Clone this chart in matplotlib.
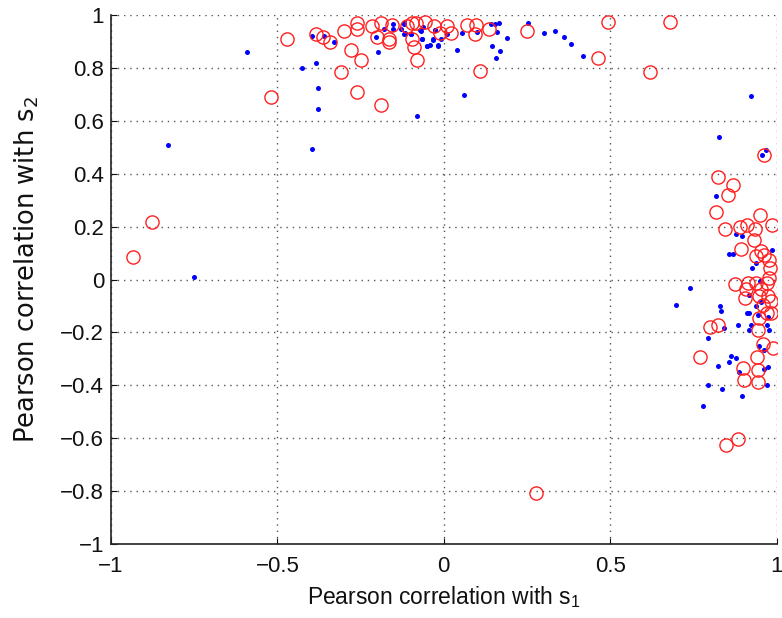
import matplotlib
matplotlib.use("Agg")
import matplotlib.pyplot as plt
from matplotlib.ticker import FuncFormatter

# Red circles (x = corr with s1, y = corr with s2)
red_x = [-0.47, -0.52, -0.385, -0.363, -0.342, -0.30, -0.26, -0.26, -0.28, -0.25,
         -0.31, -0.26, -0.19, -0.215, -0.19, -0.20, -0.165, -0.165, -0.155, -0.11,
         -0.095, -0.085, -0.095, -0.09, -0.08, -0.055, -0.03, -0.01, 0.01, 0.023,
         0.07, 0.096, 0.093, 0.136, 0.11, 0.25, 0.494, 0.464, 0.68, 0.62,
         0.962, 0.823, 0.868, 0.855, 0.818, 0.95, 0.985, 0.846, 0.89, 0.91,
         0.936, 0.933, 0.893, 0.953, 0.938, 0.963, 0.978, 0.98, 0.978, 0.875,
         0.915, 0.938, 0.971, 0.908, 0.953, 0.905, 0.948, 0.975, 0.958, 0.983,
         0.971, 0.983, 0.946, 0.945, 0.80, 0.825, 0.99, 0.96, 0.77, 0.94,
         0.898, 0.945, 0.903, 0.945, 0.848, 0.883, 0.277, -0.878, -0.933]
red_y = [0.91, 0.69, 0.93, 0.92, 0.90, 0.94, 0.97, 0.95, 0.87, 0.83,
         0.785, 0.71, 0.66, 0.96, 0.97, 0.92, 0.91, 0.90, 0.965, 0.96,
         0.97, 0.97, 0.91, 0.88, 0.83, 0.975, 0.96, 0.935, 0.96, 0.935,
         0.965, 0.965, 0.93, 0.95, 0.79, 0.94, 0.976, 0.84, 0.975, 0.787,
         0.47, 0.39, 0.36, 0.32, 0.256, 0.246, 0.205, 0.19, 0.20, 0.205,
         0.19, 0.15, 0.117, 0.107, 0.088, 0.095, 0.076, 0.044, 0.006, -0.015,
         -0.013, -0.013, -0.013, -0.035, -0.035, -0.07, -0.063, -0.063, -0.095, -0.082,
         -0.126, -0.126, -0.145, -0.19, -0.18, -0.173, -0.26, -0.242, -0.294, -0.293,
         -0.335, -0.343, -0.379, -0.388, -0.625, -0.603, -0.807, 0.218, 0.086]

# Blue dots
blue_x = [-0.59, -0.83, -0.425, -0.383, -0.377, -0.377, -0.395, -0.397, -0.36, -0.33,
          -0.205, -0.198, -0.18, -0.154, -0.154, -0.13, -0.12, -0.117, -0.10, -0.07,
          -0.064, -0.049, -0.031, -0.027, -0.017, -0.08, -0.12, -0.12, -0.10, -0.067,
          -0.061, -0.064, -0.049, -0.041, -0.031, -0.026, -0.017, -0.007, 0.011, 0.041,
          0.054, 0.061, 0.099, 0.143, 0.153, 0.166, 0.161, 0.146, 0.168, 0.157,
          0.189, 0.252, 0.30, 0.335, 0.36, 0.382, 0.419, 0.923, 0.828, 0.955,
          0.968, 0.818, 0.878, 0.895, 0.858, 0.868, 0.985, 0.938, 0.925, 0.951,
          0.741, 0.918, 0.698, 0.831, 0.833, 0.938, 0.953, 0.911, 0.918, 0.943,
          0.974, 0.883, 0.923, 0.843, 0.916, 0.971, 0.978, 0.793, 0.948, 0.961,
          0.863, 0.878, 0.858, 0.823, 0.963, 0.974, 0.888, 0.793, 0.835, 0.971,
          0.896, 0.778, -0.751]
blue_y = [0.86, 0.51, 0.80, 0.82, 0.726, 0.646, 0.495, 0.924, 0.924, 0.90,
          0.918, 0.862, 0.95, 0.966, 0.947, 0.95, 0.966, 0.934, 0.928, 0.944,
          0.91, 0.886, 0.909, 0.944, 0.888, 0.62, 0.97, 0.928, 0.928, 0.94,
          0.957, 0.912, 0.884, 0.89, 0.906, 0.944, 0.886, 0.912, 0.928, 0.869,
          0.932, 0.698, 0.938, 0.966, 0.966, 0.97, 0.937, 0.884, 0.867, 0.84,
          0.913, 0.972, 0.934, 0.94, 0.919, 0.893, 0.848, 0.694, 0.539, 0.473,
          0.49, 0.316, 0.174, 0.167, 0.097, 0.097, 0.111, 0.063, 0.044, -0.006,
          -0.032, -0.057, -0.097, -0.098, -0.12, -0.098, -0.086, -0.126, -0.126, -0.133,
          -0.141, -0.170, -0.170, -0.183, -0.189, -0.170, -0.189, -0.221, -0.25, -0.265,
          -0.288, -0.297, -0.312, -0.325, -0.338, -0.331, -0.351, -0.398, -0.414, -0.398,
          -0.442, -0.48, 0.009]

x_ticks = [-1, -0.5, 0, 0.5, 1]
y_ticks = [-1, -0.8, -0.6, -0.4, -0.2, 0, 0.2, 0.4, 0.6, 0.8, 1]

plt.rcParams['font.family'] = ['Liberation Sans', 'DejaVu Sans']
plt.rcParams['mathtext.default'] = 'regular'

fig = plt.figure(figsize=(7.82, 6.18), dpi=100)
ax = fig.add_axes([0.142, 0.12, 0.851, 0.855])

ax.plot(blue_x, blue_y, linestyle='none', marker='o', markersize=3.6,
        color='#0000ff', markeredgewidth=0, zorder=3)
ax.plot(red_x, red_y, linestyle='none', marker='o', markersize=9.5,
        markerfacecolor='none', markeredgecolor='#ff2020', markeredgewidth=1.0, zorder=4)

ax.set_xlim(-1, 1)
ax.set_ylim(-1, 1)
ax.set_xticks(x_ticks)
ax.set_yticks(y_ticks)
fmt = FuncFormatter(lambda v, p: ('%g' % round(v, 2)).replace('-', '\u2212'))
ax.xaxis.set_major_formatter(fmt)
ax.yaxis.set_major_formatter(fmt)

ax.grid(True, color='#555555', linestyle=(0, (1, 3.5)), linewidth=1.0)
ax.set_axisbelow(True)
for s in ['top', 'right']:
    ax.spines[s].set_visible(False)
for s in ['left', 'bottom']:
    ax.spines[s].set_linewidth(1.2)
    ax.spines[s].set_color('#222222')

ax.tick_params(axis='both', direction='in', length=4, labelsize=16, colors='#111111')
ax.tick_params(axis='x', pad=9)
ax.tick_params(axis='y', pad=5)
ax.set_xlabel('Pearson correlation with s$_1$', fontsize=16.5, color='#111111', labelpad=5)
ax.set_ylabel('Pearson correlation with s$_2$', fontsize=18.5, color='#111111',
              family=['DejaVu Sans'])
ax.yaxis.set_label_coords(-0.105, 0.519)

fig.savefig('out.png', dpi=100)
